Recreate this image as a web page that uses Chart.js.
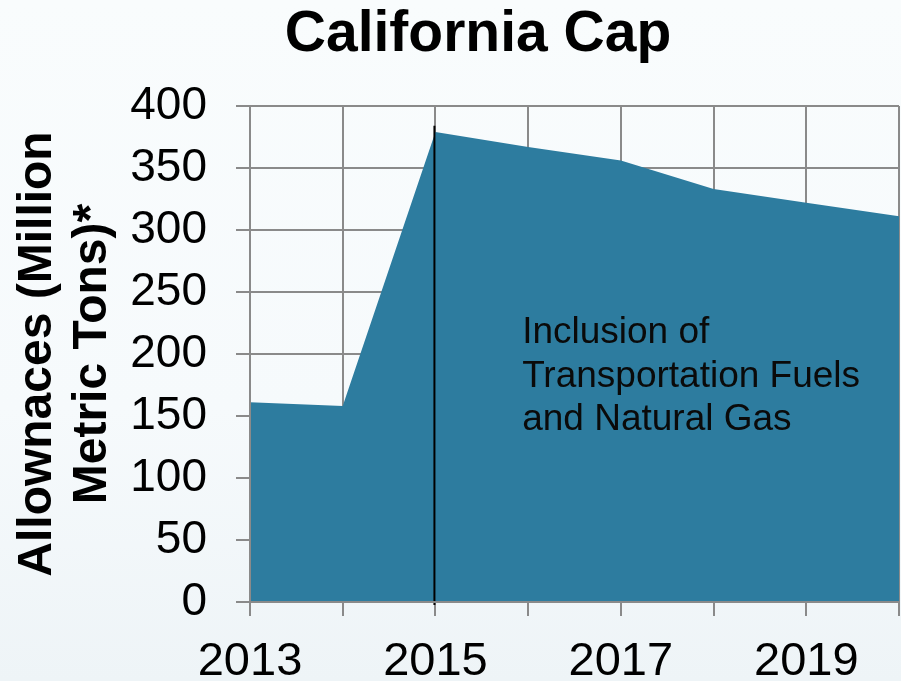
<!DOCTYPE html>
<html><head><meta charset="utf-8">
<script src="https://cdn.jsdelivr.net/npm/chart.js@4/dist/chart.umd.min.js"></script>
<style>
html,body{margin:0;padding:0;}
body{width:901px;height:681px;overflow:hidden;background:linear-gradient(180deg,#f9fcfd 0%,#f6fafc 60%,#eef4f7 100%);}
canvas{display:block;}
</style></head><body>
<canvas id="c" width="901" height="681"></canvas>
<script>
// ---- data ----
const years = ['2013','2014','2015','2016','2017','2018','2019','2020'];
const allowances = [161, 158, 379, 367, 356, 333, 322, 311];
const yTickValues = [0, 50, 100, 150, 200, 250, 300, 350, 400];
const shownYearLabels = ['2013','2015','2017','2019'];
const chartTitle = 'California Cap';
const yAxisTitle = ['Allownaces (Million', 'Metric Tons)*'];
const noteLines = ['Inclusion of', 'Transportation Fuels', 'and Natural Gas'];
const markerYear = '2015';
const markerTopValue = 384;
const noteYear = '2016';
const noteTopValue = 209;

const FONT = '"Liberation Sans", Arial, Helvetica, sans-serif';
const GRID = '#8a8a8a';
const AREA = '#2d7c9f';

const overlay = {
  id: 'overlay',
  afterDatasetsDraw(chart) {
    const {ctx, scales: {x, y}} = chart;
    ctx.save();
    // marker line
    const mx = x.getPixelForValue(years.indexOf(markerYear)) - 1;
    ctx.strokeStyle = '#000';
    ctx.lineWidth = 2;
    ctx.beginPath();
    ctx.moveTo(mx, y.getPixelForValue(markerTopValue));
    ctx.lineTo(mx, y.getPixelForValue(0) + 3);
    ctx.stroke();
    // note text
    ctx.fillStyle = '#0a0a0a';
    ctx.font = '37px ' + FONT;
    ctx.textAlign = 'left';
    ctx.textBaseline = 'alphabetic';
    const nx = x.getPixelForValue(years.indexOf(noteYear)) - 6;
    let ny = y.getPixelForValue(noteTopValue);
    noteLines.forEach((t, i) => ctx.fillText(t, nx, ny + i * 43.7));
    ctx.restore();
  },
  afterDraw(chart) {
    const {ctx} = chart;
    ctx.save();
    ctx.fillStyle = '#000';
    ctx.font = 'bold 57px ' + FONT;
    ctx.textAlign = 'center';
    ctx.textBaseline = 'alphabetic';
    ctx.fillText(chartTitle, 478, 51);
    ctx.restore();
  }
};

new Chart(document.getElementById('c'), {
  type: 'line',
  data: {
    labels: years,
    datasets: [{
      data: allowances,
      fill: 'origin',
      backgroundColor: AREA,
      borderWidth: 0,
      borderColor: AREA,
      pointRadius: 0,
      tension: 0
    }]
  },
  options: {
    responsive: false,
    animation: false,
    events: [],
    layout: {padding: {top: 106, right: 2, left: 0, bottom: 0}},
    plugins: {legend: {display: false}, title: {display: false}, tooltip: {enabled: false}},
    scales: {
      x: {
        type: 'category',
        offset: false,
        grid: {offset: false, color: GRID, lineWidth: 2, drawTicks: true, tickLength: 14, tickColor: GRID},
        border: {display: true, color: GRID, width: 2, z: 1},
        ticks: {
          autoSkip: false, maxRotation: 0, minRotation: 0, padding: 18,
          color: '#000', font: {family: FONT, size: 47},
          callback: (v, i) => shownYearLabels.includes(years[i]) ? years[i] : ''
        },
        afterFit: s => { s.height = 79; s.paddingRight = 0; s.paddingLeft = 0; }
      },
      y: {
        min: 0, max: 400,
        afterBuildTicks: s => { s.ticks = yTickValues.map(v => ({value: v})); },
        grid: {color: GRID, lineWidth: 2, drawTicks: true, tickLength: 14, tickColor: GRID},
        border: {display: true, color: GRID, width: 2, z: 1},
        ticks: {padding: 29, color: '#000', font: {family: FONT, size: 46}},
        title: {
          display: true, text: yAxisTitle, color: '#000',
          font: {family: FONT, size: 48, weight: 'bold', lineHeight: 1.15},
          padding: {top: 10, bottom: 0}
        },
        afterFit: s => { s.width = 250; }
      }
    }
  },
  plugins: [overlay]
});
</script>
</body></html>
